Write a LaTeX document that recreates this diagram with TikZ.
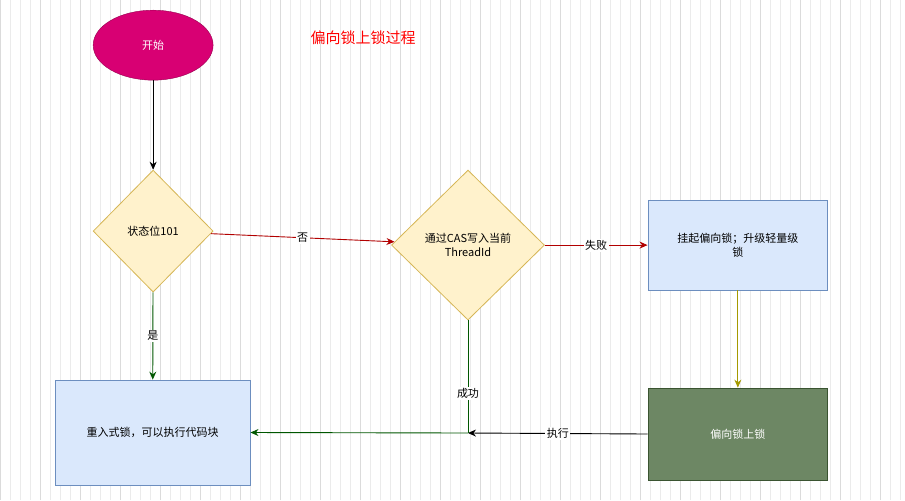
\documentclass[tikz,border=0pt]{standalone}
\usepackage{fontspec}
\setmainfont{Noto Sans CJK SC}
\usetikzlibrary{shapes.geometric,arrows.meta}
\definecolor{dfill}{HTML}{FFF2CC}\definecolor{dstroke}{HTML}{D6B656}
\definecolor{bfill}{HTML}{DAE8FC}\definecolor{bstroke}{HTML}{6C8EBF}
\definecolor{gfill}{HTML}{6D8764}\definecolor{gstroke}{HTML}{3A5431}
\definecolor{mag}{HTML}{D80073}\definecolor{redl}{HTML}{B20000}
\definecolor{greenl}{HTML}{005700}\definecolor{olive}{HTML}{A59A00}
\begin{document}
\begin{tikzpicture}[x=1pt,y=-1pt,font=\fontsize{11}{14}\selectfont,
 dia/.style={diamond,draw=dstroke,fill=dfill,line width=0.8pt,align=center,inner sep=0pt},
 bbox/.style={draw=bstroke,fill=bfill,line width=0.8pt,align=center,inner sep=2pt},
 arr/.style={-{Stealth[length=8pt,width=7pt]},line width=0.9pt},
 lab/.style={fill=white,inner sep=1.5pt}]
\fill[white] (0,0) rectangle (905,500);
\draw[black!8,step=10] (0,0) grid (905,500);
\draw[black!14,step=40] (0,0) grid (905,500);
\useasboundingbox (0,0) rectangle (905,500);
\node[ellipse,fill=mag,draw=mag!70!black,minimum width=120,minimum height=70,text=white] (s) at (153,45) {开始};
\node[text=red,font=\itshape\fontsize{15}{18}\selectfont] (t) at (363,38) {偏向锁上锁过程};
\node[dia,minimum width=120,minimum height=122] (d1) at (153,231) {状态位101};
\node[dia,minimum width=153,minimum height=150] (d2) at (468,245) {通过CAS写入当前\\ThreadId};
\node[bbox,minimum width=180,minimum height=90] (b1) at (738,245) {挂起偏向锁；升级轻量级\\锁};
\node[bbox,minimum width=195,minimum height=105] (b2) at (152.5,432.5) {重入式锁，可以执行代码块};
\node[draw=gstroke,fill=gfill,line width=0.8pt,minimum width=180,minimum height=92,text=white] (b3) at (738,434) {偏向锁上锁};
\draw[arr] (s) -- (d1);
\draw[arr,redl] (d1) -- node[lab,text=black]{否} (d2);
\draw[arr,redl] (d2) -- node[lab,text=black]{失败} (b1);
\draw[arr,olive] (b1) -- (b3);
\draw[arr,greenl] (d1) -- node[lab,text=black]{是} (b2);
\coordinate (j) at (468,433);
\draw[arr] (b3.west) -- node[lab]{执行} (j);
\draw[greenl,line width=0.9pt] (d2.south) -- node[lab,text=black,pos=0.65]{成功} (j);
\draw[arr,greenl] (j) -- (b2.east);
\end{tikzpicture}
\end{document}
